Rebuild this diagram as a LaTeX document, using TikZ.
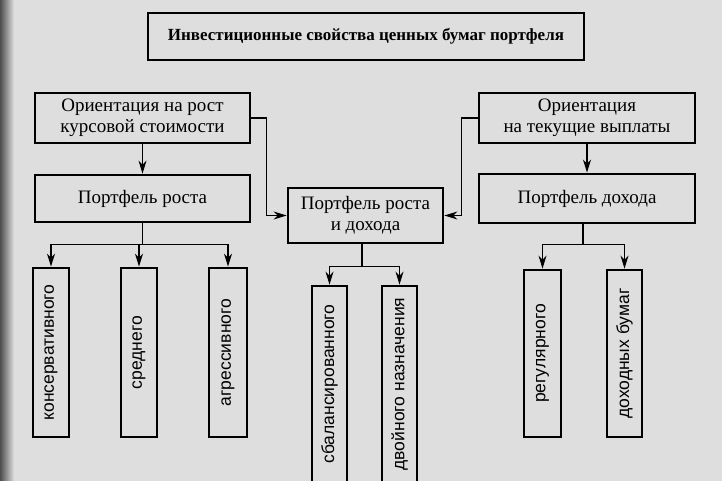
\documentclass[tikz,border=0pt]{standalone}
\usepackage{fontspec}
\setmainfont{Liberation Serif}
\setsansfont{Liberation Sans}
\usetikzlibrary{arrows.meta,calc}
\definecolor{paper}{gray}{0.87}
\begin{document}
\begin{tikzpicture}[x=1pt,y=-1pt,
  boxs/.style={draw=black,line width=2.8pt,inner sep=0pt,align=center,
    font=\fontsize{19}{21}\selectfont},
  vbox/.style={draw=black,line width=2.8pt,inner sep=0pt,
    font=\sffamily\fontsize{17.5}{20}\selectfont},
  conn/.style={line width=1.4pt},
  arr/.style={conn,-{Stealth[length=13pt,width=8pt]}}]
\fill[paper] (0,0) rectangle (722,481);
\shade[left color=black!70,right color=paper] (0,0) rectangle (14,481);
\useasboundingbox (0,0) rectangle (722,481);
% top
\node[boxs,minimum width=436pt,minimum height=47pt,
  font=\bfseries\fontsize{17}{20}\selectfont] (title) at (366,36.5)
  {Инвестиционные свойства ценных бумаг портфеля};
\node[boxs,minimum width=215pt,minimum height=50pt] (o1) at (142.5,118)
  {Ориентация на рост\\курсовой стоимости};
\node[boxs,minimum width=215pt,minimum height=47pt] (pg) at (142.5,198.5)
  {Портфель роста};
\node[boxs,minimum width=155pt,minimum height=55pt] (mid) at (365.5,215.5)
  {Портфель роста\\и дохода};
\node[boxs,minimum width=216pt,minimum height=50pt] (o2) at (587,118)
  {Ориентация\\на текущие выплаты};
\node[boxs,minimum width=216pt,minimum height=49pt] (pd) at (587,198.5)
  {Портфель дохода};
% vertical boxes
\node[vbox,minimum width=36pt,minimum height=169pt] (b1) at (51,352.5)
  {\rotatebox{90}{консервативного}};
\node[vbox,minimum width=36pt,minimum height=169pt] (b2) at (139,352.5)
  {\rotatebox{90}{среднего}};
\node[vbox,minimum width=38pt,minimum height=169pt] (b3) at (228,352.5)
  {\rotatebox{90}{агрессивного}};
\node[vbox,minimum width=35pt,minimum height=196pt] (m1) at (329.5,384)
  {\rotatebox{90}{сбалансированного}};
\node[vbox,minimum width=35pt,minimum height=196pt] (m2) at (399.5,384)
  {\rotatebox{90}{двойного назначения}};
\node[vbox,minimum width=37pt,minimum height=167pt] (r1) at (542.5,353.5)
  {\rotatebox{90}{регулярного}};
\node[vbox,minimum width=35pt,minimum height=167pt] (r2) at (624.5,353.5)
  {\rotatebox{90}{доходных бумаг}};
% connectors
\draw[arr] (o1.south) -- (pg.north);
\draw[arr] (o2.south) -- (pd.north);
\draw[arr] (o1.east) -- ++(15,0) |- (mid.west);
\draw[arr] (o2.west) -- ++(-16,0) |- (mid.east);
\coordinate (j1) at ($(pg.south)+(0,21)$);
\draw[conn] (pg.south) -- (j1);
\draw[arr] (j1) -| (b1.north);
\draw[arr] (j1) -| (b2.north);
\draw[arr] (j1) -| (b3.north);
\coordinate (j2) at ($(mid.south)+(-3.5,22)$);
\draw[conn] (mid.south -| j2) -- (j2);
\draw[arr] (j2) -| (m1.north);
\draw[arr] (j2) -| (m2.north);
\coordinate (j3) at ($(pd.south)+(-4,20)$);
\draw[conn] (pd.south -| j3) -- (j3);
\draw[arr] (j3) -| (r1.north);
\draw[arr] (j3) -| (r2.north);
\end{tikzpicture}
\end{document}
